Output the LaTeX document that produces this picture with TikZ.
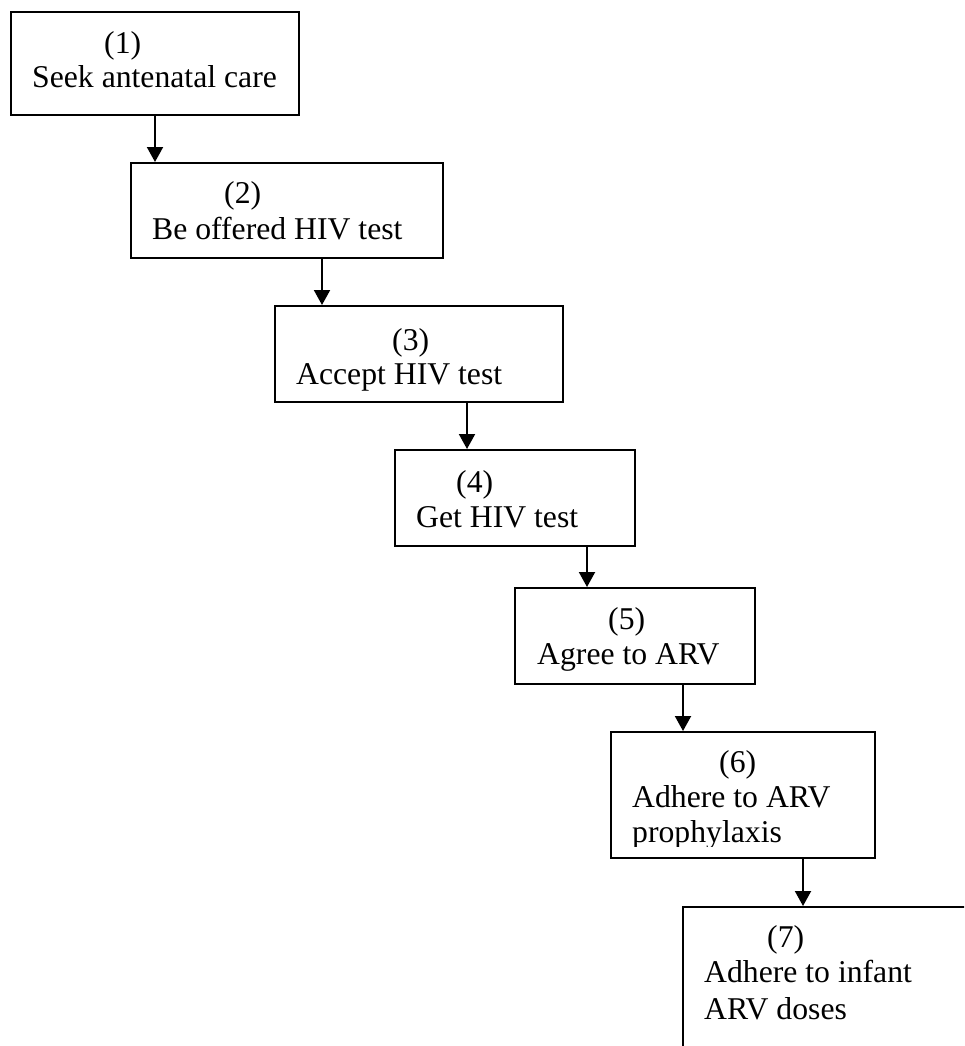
\documentclass[tikz,border=0pt]{standalone}
\usepackage{fontspec}
\setmainfont{Liberation Serif}
\usetikzlibrary{arrows.meta}
\begin{document}
\begin{tikzpicture}[x=1pt,y=-1pt,
  box/.style={draw=black,line width=2pt,rectangle,inner sep=0pt,fill=none},
  lbl/.style={anchor=base west,inner sep=0pt,font=\fontsize{31.7}{36}\selectfont},
  arr/.style={line width=2pt,-{Triangle[width=16pt,length=15pt]}}]
\useasboundingbox (0,0) rectangle (964,1046);
\clip (0,0) rectangle (964,1046);
% boxes
\node[box,minimum width=288pt,minimum height=103pt] (b1) at (155,63.5) {};
\node[box,minimum width=312pt,minimum height=95pt] (b2) at (287,210.5) {};
\node[box,minimum width=288pt,minimum height=96pt] (b3) at (419,354) {};
\node[box,minimum width=240pt,minimum height=96pt] (b4) at (515,498) {};
\node[box,minimum width=240pt,minimum height=96pt] (b5) at (635,636) {};
\node[box,minimum width=264pt,minimum height=126pt] (b6) at (743,795) {};
\node[box,minimum width=320pt,minimum height=200pt] (b7) at (843,1007) {};
% texts
\node[lbl] (t1a) at (104,54) {(1)};
\node[lbl] (t1b) at (32,88) {Seek antenatal care};
\node[lbl] (t2a) at (224,203) {(2)};
\node[lbl] (t2b) at (152,239) {Be offered HIV test};
\node[lbl] (t3a) at (392,350) {(3)};
\node[lbl] (t3b) at (296,384) {Accept HIV test};
\node[lbl] (t4a) at (456,492) {(4)};
\node[lbl] (t4b) at (416,527) {Get HIV test};
\node[lbl] (t5a) at (608,629) {(5)};
\node[lbl] (t5b) at (537,664) {Agree to ARV};
\node[lbl] (t6a) at (719,772) {(6)};
\node[lbl] (t6b) at (632,807) {Adhere to ARV};
\begin{scope}
\clip (611,732) rectangle (875,846);
\node[lbl] (t6c) at (632,842) {prophylaxis};
\end{scope}
\node[lbl] (t7a) at (767,947) {(7)};
\node[lbl] (t7b) at (704,982) {Adhere to infant};
\node[lbl] (t7c) at (704,1019) {ARV doses};
% connectors
\coordinate (x1) at (155,0);
\coordinate (x2) at (322,0);
\coordinate (x3) at (467,0);
\coordinate (x4) at (587,0);
\coordinate (x5) at (683,0);
\coordinate (x6) at (803,0);
\draw[arr] (b1.south -| x1) -- (b2.north -| x1);
\draw[arr] (b2.south -| x2) -- (b3.north -| x2);
\draw[arr] (b3.south -| x3) -- (b4.north -| x3);
\draw[arr] (b4.south -| x4) -- (b5.north -| x4);
\draw[arr] (b5.south -| x5) -- (b6.north -| x5);
\draw[arr] (b6.south -| x6) -- (b7.north -| x6);
\end{tikzpicture}
\end{document}
